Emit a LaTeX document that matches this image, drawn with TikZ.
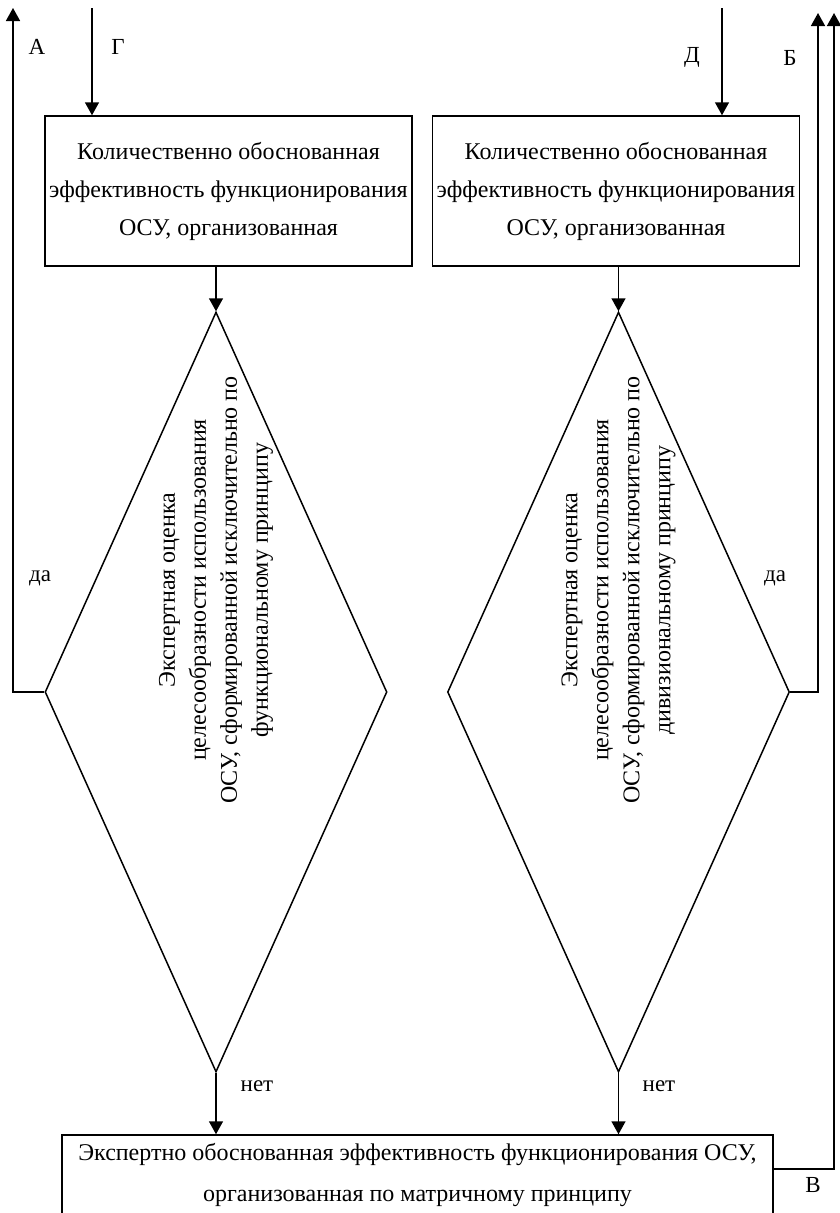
\documentclass[tikz,border=0pt]{standalone}
\usepackage{fontspec}
\setmainfont{Liberation Serif}
\usetikzlibrary{positioning, arrows.meta, shapes.geometric}

\begin{document}
\begin{tikzpicture}[
    x=1pt, y=-1pt, line width=1.5pt,
    box/.style={draw, rectangle, align=center, inner sep=0pt, font=\fontsize{24}{38}\selectfont, minimum width=367pt, minimum height=150pt},
    dia/.style={draw, diamond, inner sep=0pt, minimum width=342pt, minimum height=760pt},
    vtext/.style={rotate=90, align=center, inner sep=0pt, font=\fontsize{24}{31}\selectfont},
    lbl/.style={font=\fontsize{23}{23}\selectfont},
    arr/.style={-{Triangle[length=13pt, width=14pt]}}
]
    \useasboundingbox (0,0) rectangle (839,1213);

    \node[box] (qfun) at (228.5,191) {Количественно обоснованная\\эффективность функционирования\\ОСУ, организованная};
    \node[box] (qdiv) at (616,191) {Количественно обоснованная\\эффективность функционирования\\ОСУ, организованная};
    \node[dia] (efun) at (216,692) {};
    \node[dia] (ediv) at (618.5,692) {};
    \node[vtext] (efuntext) at (216,590) {Экспертная оценка\\целесообразности использования\\ОСУ, сформированной исключительно по\\функциональному принципу};
    \node[vtext] (edivtext) at (618.5,590) {Экспертная оценка\\целесообразности использования\\ОСУ, сформированной исключительно по\\дивизиональному принципу};
    \node[box, minimum width=711pt, minimum height=80pt, font=\fontsize{24}{41}\selectfont] (emat) at (417.5,1175) {Экспертно обоснованная эффективность функционирования ОСУ,\\организованная по матричному принципу};

    \coordinate (atop) at (13,8);
    \coordinate (gtop) at (92,8);
    \coordinate (dtop) at (722,8);
    \coordinate (btop) at (818,13);
    \coordinate (vtop) at (834,13);
    \coordinate (vturn) at (834,1169);

    \draw[arr] (gtop) -- (gtop |- qfun.north);
    \draw[arr] (dtop) -- (dtop |- qdiv.north);
    \draw[arr] (efun.north |- qfun.south) -- (efun.north);
    \draw[arr] (ediv.north |- qdiv.south) -- (ediv.north);
    \draw[arr] (efun.west) -| (atop);
    \draw[arr] (ediv.east) -| (btop);
    \draw[arr] (efun.south) -- (efun.south |- emat.north);
    \draw[arr] (ediv.south) -- (ediv.south |- emat.north);
    \draw[arr] (emat.east |- vturn) -- (vturn) -- (vtop);

    \node[lbl] (la) at (37,47) {А};
    \node[lbl] (lg) at (118,47) {Г};
    \node[lbl] (ld) at (692,57) {Д};
    \node[lbl] (lb) at (790,58) {Б};
    \node[lbl] (lv) at (813,1185) {В};
    \node[lbl] (yfun) at (40,578) {да};
    \node[lbl] (ydiv) at (775,578) {да};
    \node[lbl] (nfun) at (257,1086) {нет};
    \node[lbl] (ndiv) at (659,1086) {нет};
\end{tikzpicture}
\end{document}
